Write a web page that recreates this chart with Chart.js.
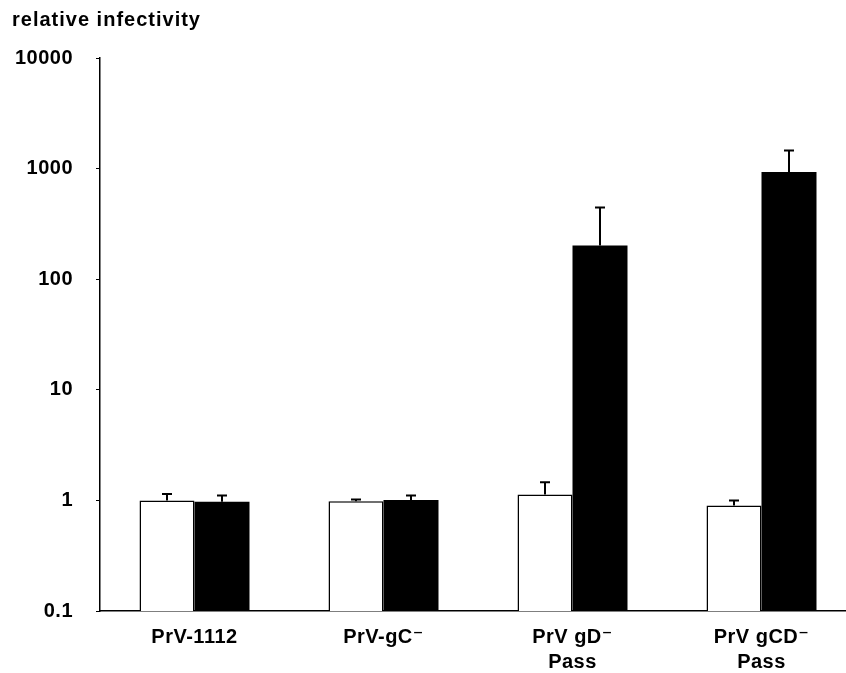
<!DOCTYPE html>
<html>
<head>
<meta charset="utf-8">
<script src="https://cdn.jsdelivr.net/npm/chart.js@4"></script>
<style>
	html, body { margin: 0; padding: 0; background: #fff; overflow: hidden; }
	#wrap { width: 856px; height: 673px; }
</style>
</head>
<body>
<div id="wrap"><canvas id="myChart" width="856" height="673"></canvas></div>
<script>
const categories = [["PrV-1112"], ["PrV-gC⁻"], ["PrV gD⁻", "Pass"], ["PrV gCD⁻", "Pass"]];
const openValues = [1.0, 0.98, 1.13, 0.90];
const openErrTop = [1.14, 1.02, 1.46, 1.0];
const filledValues = [0.97, 1.01, 202, 930];
const filledErrTop = [1.11, 1.11, 446, 1460];
const yTicks = [0.1, 1, 10, 100, 1000, 10000];
const yTitle = "relative infectivity";

const font = { family: "'Liberation Sans', Arial, 'DejaVu Sans', sans-serif", weight: "bold", size: 20 };

// error bars (upper side only) + the axis title in the top-left corner
const extras = {
	id: "extras",
	beforeDraw(chart) {
		chart.ctx.letterSpacing = "0.5px";
	},
	afterDatasetsDraw(chart) {
		const ctx = chart.ctx;
		const y = chart.scales.y;
		const tops = [openErrTop, filledErrTop];
		ctx.save();
		ctx.strokeStyle = "#000";
		ctx.lineWidth = 2;
		chart.data.datasets.forEach((ds, d) => {
			chart.getDatasetMeta(d).data.forEach((bar, i) => {
				const yt = y.getPixelForValue(tops[d][i]);
				ctx.beginPath();
				ctx.moveTo(bar.x, bar.y);
				ctx.lineTo(bar.x, yt);
				ctx.moveTo(bar.x - 5, yt);
				ctx.lineTo(bar.x + 5, yt);
				ctx.stroke();
			});
		});
		ctx.restore();
	},
	afterDraw(chart) {
		const ctx = chart.ctx;
		ctx.save();
		ctx.letterSpacing = "1px";
		ctx.font = `bold 20px ${font.family}`;
		ctx.fillStyle = "#000";
		ctx.textBaseline = "middle";
		ctx.textAlign = "left";
		ctx.fillText(yTitle, 12, 20);
		ctx.restore();
	},
};

new Chart(document.getElementById("myChart"), {
	type: "bar",
	data: {
		labels: categories,
		datasets: [
			{
				label: "open",
				data: openValues,
				backgroundColor: "#fff",
				borderColor: "#000",
				borderWidth: 1.5,
			},
			{
				label: "filled",
				data: filledValues,
				backgroundColor: "#000",
				borderColor: "#000",
				borderWidth: 0,
			},
		],
	},
	options: {
		responsive: false,
		animation: false,
		events: [],
		layout: { padding: { top: 58, right: 0, bottom: 0, left: 0 } },
		datasets: { bar: { barPercentage: 1, categoryPercentage: 0.582 } },
		plugins: {
			legend: { display: false },
			tooltip: { enabled: false },
			title: { display: false },
		},
		scales: {
			x: {
				grid: { display: false },
				border: { display: true, color: "#000", width: 1.5 },
				ticks: { color: "#000", font: { ...font, lineHeight: 1.25 }, padding: 6, maxRotation: 0, autoSkip: false },
				afterFit(scale) {
					scale.height = 62;
				},
			},
			y: {
				type: "logarithmic",
				min: 0.1,
				max: 10000,
				grid: { display: true, drawOnChartArea: false, drawTicks: true, tickLength: 4, color: "#000", lineWidth: 1 },
				border: { display: true, color: "#000", width: 1.5 },
				afterBuildTicks(scale) {
					scale.ticks = yTicks.map((v) => ({ value: v }));
				},
				ticks: {
					color: "#000",
					font: font,
					padding: 23,
					callback: (v) => String(v),
				},
				afterFit(scale) {
					scale.width = 100;
				},
			},
		},
	},
	plugins: [extras],
});
</script>
</body>
</html>
